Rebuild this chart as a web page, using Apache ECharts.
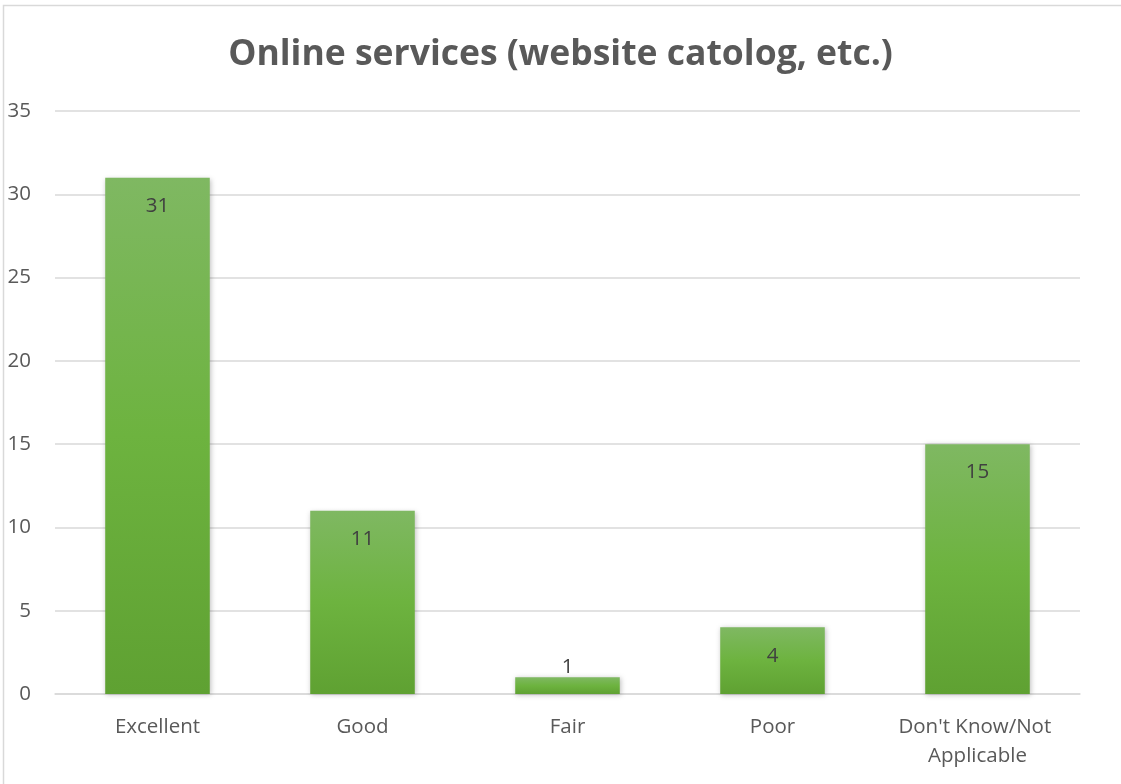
<!DOCTYPE html>
<html>
<head>
<meta charset="utf-8">
<script src="https://cdn.jsdelivr.net/npm/echarts@6/dist/echarts.min.js"></script>
<style>
   html, body { margin: 0; padding: 0; background: #ffffff; }
   #chart { width: 1121px; height: 784px; }
</style>
</head>
<body>
<div id="chart"></div>
<script>

const titleText = "Online services (website catolog, etc.)";
const categories = ["Excellent", "Good", "Fair", "Poor", "Don't Know/Not Applicable"];
const counts = [31, 11, 1, 4, 15];

const yMin = 0;
const yMax = 35;
const yStep = 5;

var chart = echarts.init(document.getElementById('chart'));

// small bars can't hold their label, so it goes on top
var barData = counts.map(function (v)
{
   if (v < 2) return { value: v, label: { position: 'top', distance: 0 } };
   return v;
});

var option =
{
   animation: false,
   backgroundColor: '#ffffff',
   graphic: [
      {
         type: 'rect',
         shape: { x: 3.5, y: 5.5, width: 1130, height: 800 },
         style: { fill: 'none', stroke: '#d9d9d9', lineWidth: 1.5 },
         silent: true
      }
   ],
   title:
   {
      text: titleText,
      left: 'center',
      top: 32,
      textStyle:
      {
         fontFamily: 'Open Sans',
         fontWeight: 'bold',
         fontSize: 35.5,
         color: '#595959'
      }
   },
   grid: { left: 55, right: 41, top: 111, bottom: 90 },
   xAxis:
   {
      type: 'category',
      data: categories,
      axisLine: { lineStyle: { color: '#d9d9d9', width: 1.5 } },
      axisTick: { show: false },
      axisLabel:
      {
         color: '#595959',
         fontFamily: 'Open Sans',
         fontSize: 20.5,
         margin: 19,
         lineHeight: 29,
         width: 190,
         overflow: 'break',
         interval: 0
      }
   },
   yAxis:
   {
      type: 'value',
      min: yMin,
      max: yMax,
      interval: yStep,
      axisLine: { show: false },
      axisTick: { show: false },
      splitLine: { lineStyle: { color: '#d9d9d9', width: 1.5 } },
      axisLabel:
      {
         color: '#595959',
         fontFamily: 'Open Sans',
         fontSize: 20.5,
         margin: 24
      }
   },
   series: [
      {
         type: 'bar',
         data: barData,
         barWidth: '51%',
         itemStyle:
         {
            color: new echarts.graphic.LinearGradient(0, 0, 0, 1, [
               { offset: 0, color: '#7fb862' },
               { offset: 0.5, color: '#6db33f' },
               { offset: 1, color: '#5fa132' }
            ]),
            shadowColor: 'rgba(0,0,0,0.25)',
            shadowBlur: 5,
            shadowOffsetX: 1,
            shadowOffsetY: 1
         },
         label:
         {
            show: true,
            position: 'insideTop',
            distance: 18,
            color: '#404040',
            fontFamily: 'Open Sans',
            fontSize: 20.5
         }
      }
   ]
};

chart.setOption(option);

</script>
</body>
</html>
